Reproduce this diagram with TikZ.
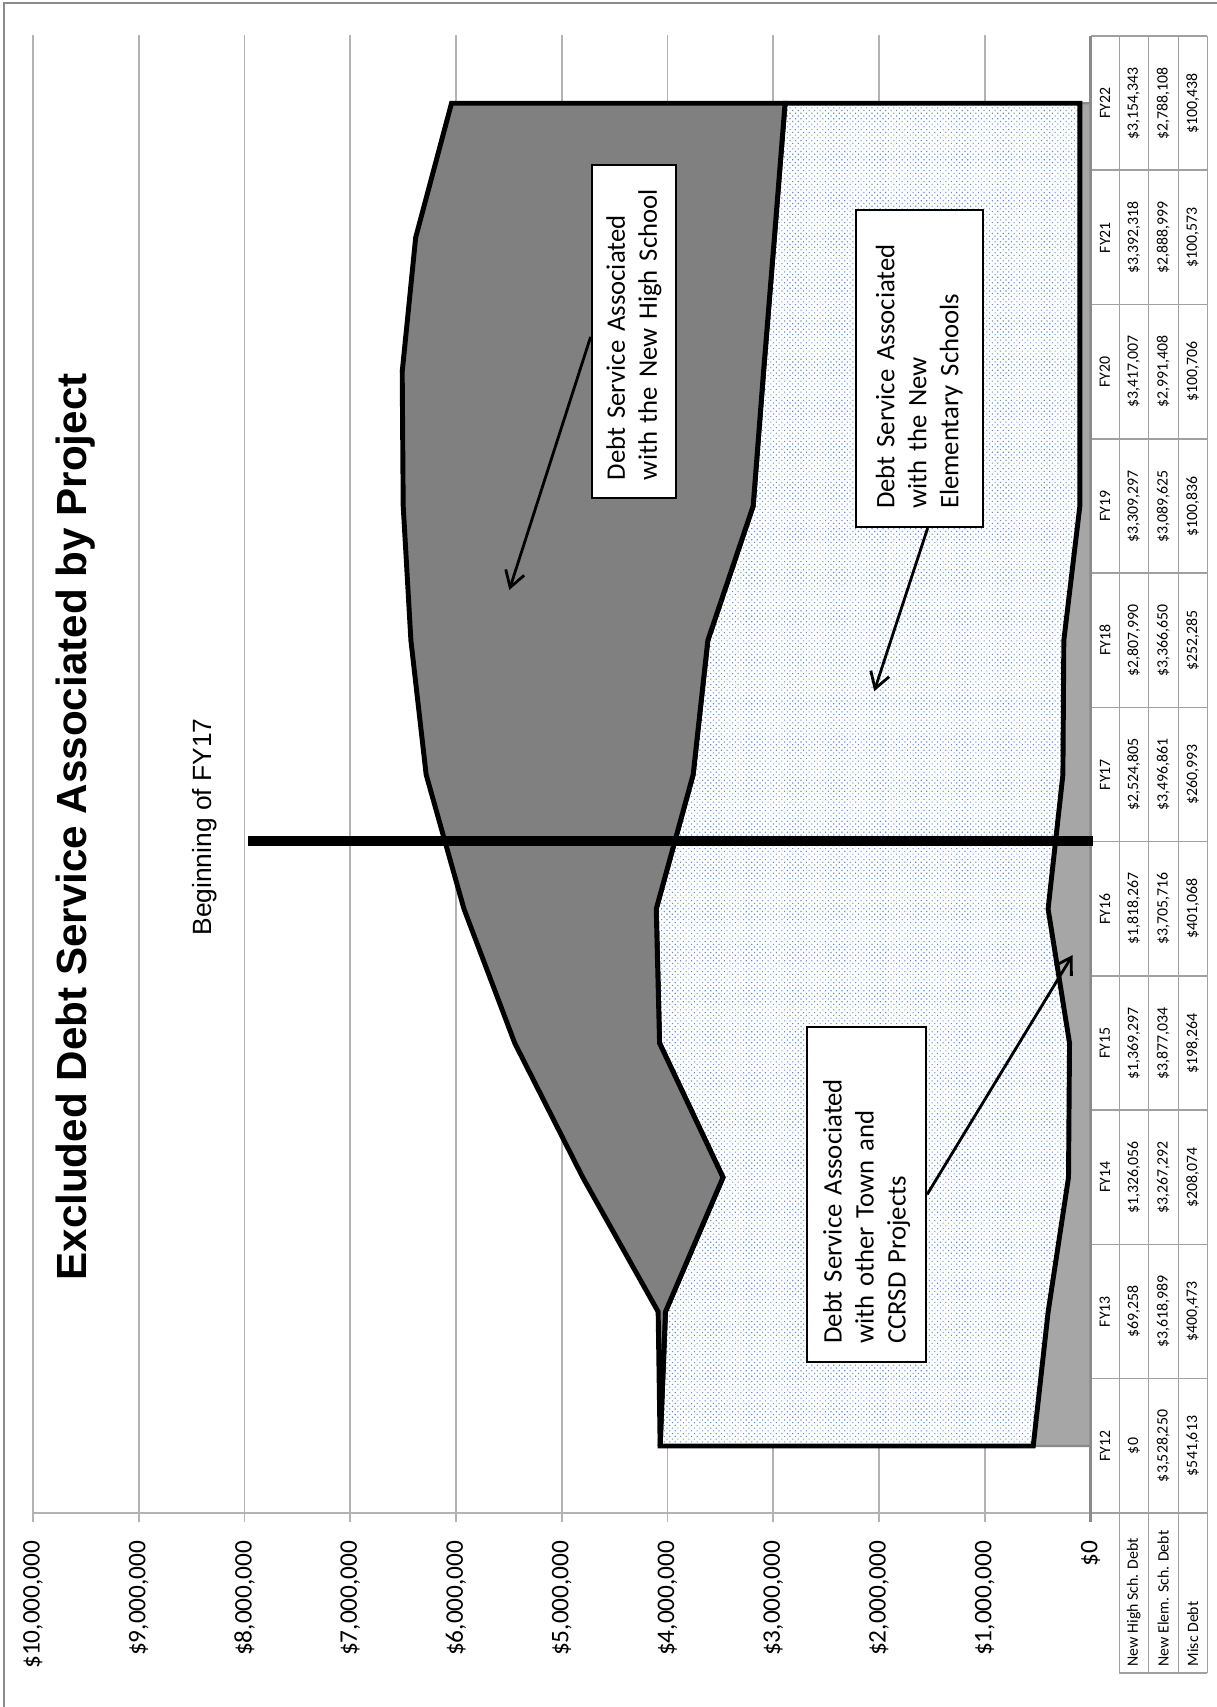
\documentclass[tikz,border=0pt]{standalone}
\usepackage{fontspec}
\setmainfont{Carlito}
\newfontfamily\arialfont{Liberation Sans}
\usetikzlibrary{arrows.meta,patterns.meta}

\definecolor{gridgray}{HTML}{B3B3B3}
\definecolor{tabgray}{HTML}{A0A0A0}
\definecolor{axisgray}{HTML}{8A8A8A}
\definecolor{miscgray}{HTML}{A6A6A6}
\definecolor{highgray}{HTML}{808080}
\definecolor{dotblue}{HTML}{5B8ED6}

\tikzdeclarepattern{
  name=finedots,
  type=uncolored,
  bottom left={(-0.5pt,-0.5pt)},
  top right={(0.5pt,0.5pt)},
  tile size={(1.1pt,1.1pt)},
  tile transformation={rotate=45},
  code={\fill (0pt,0pt) circle [radius=0.22pt];}
}

\begin{document}
\begin{tikzpicture}[x=0.1mm,y=0.1mm,>={Straight Barb[length=4.5pt,width=5.5pt]},
  gridline/.style={gridgray,line width=0.55pt},
  tabline/.style={tabgray,line width=0.45pt},
  vlabel/.style={anchor=east,inner sep=0pt,font=\fontsize{7.2}{8.6}\selectfont},
  tabtext/.style={inner sep=0pt,font=\fontsize{4.5}{5.4}\selectfont},
  callout/.style={draw,fill=white,line width=0.6pt,align=left,inner xsep=1.8mm,inner ysep=0pt,
    font=\fontsize{7.6}{9.1}\selectfont},
  pointer/.style={->,line width=0.8pt}]
 \useasboundingbox (0,0) rectangle (1217,1707);
 \fill[white] (0,0) rectangle (1217,1707);
 \draw[axisgray,line width=0.8pt] (4,0) -- (4,1704) -- (1217,1704);

 % chart is laid out in landscape and turned up
 \begin{scope}[shift={(1217,0)},rotate=90,transform shape]
  \foreach \k in {1,...,10}
   \draw[gridline] (185,126.5+\k*105.75) -- (1672,126.5+\k*105.75);
  \draw[gridline] (194,126.5) -- (194,1184);
  \draw[gridline] (185,126.5) -- (194,126.5);

  % data table
  \foreach \v in {9.7,38.7,68.7,97.7}
   \draw[tabline] (34,\v) -- (1671,\v);
  \foreach \j in {0,...,11}
   \draw[tabline] (1671-\j*134.27,9.7) -- (1671-\j*134.27,126.5);
  \draw[tabline] (34,9.7) -- (34,97.7);
  \draw[axisgray,line width=0.6pt] (185,126.5) -- (1671,126.5);

  \begin{scope}[shift={(261,126.5)},xscale=134.27,yscale=0.10575]
   \draw[fill=miscgray,draw=axisgray,line width=0.6pt] (0,0) -- plot coordinates {(0,541.613) (1,400.473) (2,208.074) (3,198.264) (4,401.068) (5,260.993) (6,252.285) (7,100.836) (8,100.706) (9,100.573) (10,100.438)} -- (10,0) -- cycle;
   \draw[preaction={fill=white},pattern=finedots,pattern color=dotblue,line width=1.4pt] plot coordinates {(0,541.613) (1,400.473) (2,208.074) (3,198.264) (4,401.068) (5,260.993) (6,252.285) (7,100.836) (8,100.706) (9,100.573) (10,100.438)} -- plot coordinates {(10,2888.546) (9,2989.572) (8,3092.114) (7,3190.461) (6,3618.935) (5,3757.854) (4,4106.784) (3,4075.298) (2,3475.366) (1,4019.462) (0,4069.863)} -- cycle;
   \draw[fill=highgray,line width=1.4pt] plot coordinates {(0,4069.863) (1,4019.462) (2,3475.366) (3,4075.298) (4,4106.784) (5,3757.854) (6,3618.935) (7,3190.461) (8,3092.114) (9,2989.572) (10,2888.546)} -- plot coordinates {(10,6042.889) (9,6381.890) (8,6509.121) (7,6499.758) (6,6426.925) (5,6282.659) (4,5925.051) (3,5444.595) (2,4801.422) (1,4088.720) (0,4069.863)} -- cycle;
  \end{scope}

  \draw[line width=2.85pt] (865.5,124) -- (865.5,969);

  \node[font=\arialfont\bfseries\fontsize{12}{14}\selectfont] (title) at (880,1141) {Excluded Debt Service Associated by Project};
  \node[font=\arialfont\fontsize{7.5}{9}\selectfont] (fy17) at (880,1012) {Beginning of FY17};

  \node[vlabel] (v0) at (167,126.5) {\$0};
  \foreach \k in {1,...,10}
   \node[vlabel] (v\k) at (167,126.5+\k*105.75) {\$\k,000,000};

  \foreach \i/\fy/\hs/\es/\md in {
    0/FY12/{\$0}/{\$3,528,250}/{\$541,613},
    1/FY13/{\$69,258}/{\$3,618,989}/{\$400,473},
    2/FY14/{\$1,326,056}/{\$3,267,292}/{\$208,074},
    3/FY15/{\$1,369,297}/{\$3,877,034}/{\$198,264},
    4/FY16/{\$1,818,267}/{\$3,705,716}/{\$401,068},
    5/FY17/{\$2,524,805}/{\$3,496,861}/{\$260,993},
    6/FY18/{\$2,807,990}/{\$3,366,650}/{\$252,285},
    7/FY19/{\$3,309,297}/{\$3,089,625}/{\$100,836},
    8/FY20/{\$3,417,007}/{\$2,991,408}/{\$100,706},
    9/FY21/{\$3,392,318}/{\$2,888,999}/{\$100,573},
    10/FY22/{\$3,154,343}/{\$2,788,108}/{\$100,438}}{
   \node[tabtext] (fy\i) at (261+\i*134.27,112.1) {\fy};
   \node[tabtext] (hs\i) at (261+\i*134.27,83.2) {\hs};
   \node[tabtext] (es\i) at (261+\i*134.27,53.7) {\es};
   \node[tabtext] (md\i) at (261+\i*134.27,24.2) {\md};
  }
  \node[tabtext,anchor=west] (rowhs) at (40,83.2) {New High Sch. Debt};
  \node[tabtext,anchor=west] (rowes) at (40,53.7) {New Elem. Sch. Debt};
  \node[tabtext,anchor=west] (rowmd) at (40,24.2) {Misc Debt};

  % callouts
  \node[callout,text width=29.7mm,minimum height=8.43mm] (hs) at (1375.4,583.2)
   {Debt Service Associated\\with the New High School};
  \node[callout,text width=28.1mm,minimum height=12.74mm] (es) at (1338.5,297.7)
   {Debt Service Associated\\with the New\\Elementary Schools};
  \node[callout,text width=29.84mm,minimum height=11.87mm] (ot) at (512.5,350.3)
   {Debt Service Associated\\with other Town and\\CCRSD Projects};
  \coordinate (hstip) at (1117,707.7);
  \coordinate (estip) at (1015.7,342.8);
  \coordinate (ottip) at (752,144.3);
  \draw[pointer] (hs.97) -- (hstip);
  \draw[pointer] (es.183) -- (estip);
  \draw[pointer] (ot.south) -- (ottip);
 \end{scope}
\end{tikzpicture}
\end{document}
